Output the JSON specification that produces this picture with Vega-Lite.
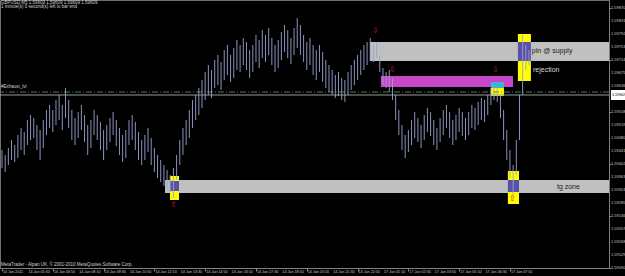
{
"$schema":"https://vega.github.io/schema/vega-lite/v6.json",
"width":609,"height":268,
"autosize":{"type":"none"},
"padding":{"left":0,"top":0,"right":16,"bottom":8},
"background":"#000000",
"config":{"view":{"stroke":"#707070","strokeWidth":1},"font":"Liberation Sans",
 "axis":{"labels":false,"grid":false,"title":null,"domainColor":"#808080","tickColor":"#808080"},
 "axisX":{"tickSize":3},
 "axisY":{"tickSize":2}},
"resolve":{"scale":{"color":"independent","strokeDash":"independent"}},
"datasets":{
"bars":[
{"i":0,"h":1.59444,"l":1.59390},{"i":2,"h":1.59429,"l":1.59378},{"i":4,"h":1.59450,"l":1.59399},{"i":6,"h":1.59474,"l":1.59414},{"i":8,"h":1.59459,"l":1.59408},{"i":10,"h":1.59489,"l":1.59420},{"i":12,"h":1.59510,"l":1.59444},{"i":14,"h":1.59498,"l":1.59429},{"i":16,"h":1.59534,"l":1.59459},{"i":18,"h":1.59549,"l":1.59474},
{"i":20,"h":1.59540,"l":1.59480},{"i":22,"h":1.59519,"l":1.59444},{"i":24,"h":1.59504,"l":1.59414},{"i":26,"h":1.59534,"l":1.59450},{"i":28,"h":1.59564,"l":1.59489},{"i":30,"h":1.59579,"l":1.59510},{"i":32,"h":1.59564,"l":1.59498},{"i":34,"h":1.59594,"l":1.59519},{"i":36,"h":1.59609,"l":1.59534},{"i":38,"h":1.59579,"l":1.59504},
{"i":40,"h":1.59630,"l":1.59540},{"i":42,"h":1.59594,"l":1.59510},{"i":44,"h":1.59564,"l":1.59474},{"i":46,"h":1.59540,"l":1.59459},{"i":48,"h":1.59558,"l":1.59480},{"i":50,"h":1.59579,"l":1.59504},{"i":52,"h":1.59549,"l":1.59468},{"i":54,"h":1.59519,"l":1.59429},{"i":56,"h":1.59534,"l":1.59450},{"i":58,"h":1.59564,"l":1.59489},
{"i":60,"h":1.59549,"l":1.59474},{"i":62,"h":1.59528,"l":1.59444},{"i":64,"h":1.59504,"l":1.59414},{"i":66,"h":1.59519,"l":1.59444},{"i":68,"h":1.59540,"l":1.59468},{"i":70,"h":1.59558,"l":1.59489},{"i":72,"h":1.59534,"l":1.59456},{"i":74,"h":1.59510,"l":1.59429},{"i":76,"h":1.59489,"l":1.59408},{"i":78,"h":1.59504,"l":1.59420},
{"i":80,"h":1.59534,"l":1.59459},{"i":82,"h":1.59549,"l":1.59474},{"i":84,"h":1.59528,"l":1.59444},{"i":86,"h":1.59498,"l":1.59414},{"i":88,"h":1.59474,"l":1.59399},{"i":90,"h":1.59489,"l":1.59414},{"i":92,"h":1.59510,"l":1.59438},{"i":94,"h":1.59480,"l":1.59399},{"i":96,"h":1.59450,"l":1.59378},{"i":98,"h":1.59429,"l":1.59360},
{"i":100,"h":1.59414,"l":1.59348},{"i":102,"h":1.59399,"l":1.59336},{"i":104,"h":1.59384,"l":1.59324},{"i":106,"h":1.59369,"l":1.59318},{"i":108,"h":1.59390,"l":1.59300},{"i":110,"h":1.59429,"l":1.59354},{"i":112,"h":1.59474,"l":1.59399},{"i":114,"h":1.59510,"l":1.59429},{"i":116,"h":1.59534,"l":1.59459},{"i":118,"h":1.59564,"l":1.59480},
{"i":120,"h":1.59594,"l":1.59510},{"i":122,"h":1.59609,"l":1.59534},{"i":124,"h":1.59630,"l":1.59549},{"i":126,"h":1.59654,"l":1.59570},{"i":128,"h":1.59678,"l":1.59594},{"i":130,"h":1.59699,"l":1.59609},{"i":132,"h":1.59684,"l":1.59600},{"i":134,"h":1.59714,"l":1.59630},{"i":136,"h":1.59729,"l":1.59639},{"i":138,"h":1.59708,"l":1.59624},
{"i":140,"h":1.59744,"l":1.59654},{"i":142,"h":1.59759,"l":1.59669},{"i":144,"h":1.59729,"l":1.59648},{"i":146,"h":1.59750,"l":1.59660},{"i":148,"h":1.59774,"l":1.59684},{"i":150,"h":1.59759,"l":1.59678},{"i":152,"h":1.59780,"l":1.59699},{"i":154,"h":1.59768,"l":1.59684},{"i":156,"h":1.59744,"l":1.59660},{"i":158,"h":1.59759,"l":1.59678},
{"i":160,"h":1.59789,"l":1.59708},{"i":162,"h":1.59774,"l":1.59690},{"i":164,"h":1.59804,"l":1.59720},{"i":166,"h":1.59789,"l":1.59708},{"i":168,"h":1.59810,"l":1.59729},{"i":170,"h":1.59780,"l":1.59699},{"i":172,"h":1.59759,"l":1.59678},{"i":174,"h":1.59774,"l":1.59690},{"i":176,"h":1.59798,"l":1.59714},{"i":178,"h":1.59819,"l":1.59738},
{"i":180,"h":1.59804,"l":1.59720},{"i":182,"h":1.59780,"l":1.59702},{"i":184,"h":1.59810,"l":1.59729},{"i":186,"h":1.59840,"l":1.59750},{"i":188,"h":1.59819,"l":1.59729},{"i":190,"h":1.59789,"l":1.59708},{"i":192,"h":1.59768,"l":1.59684},{"i":194,"h":1.59780,"l":1.59699},{"i":196,"h":1.59759,"l":1.59669},{"i":198,"h":1.59744,"l":1.59654},
{"i":200,"h":1.59759,"l":1.59678},{"i":202,"h":1.59738,"l":1.59648},{"i":204,"h":1.59714,"l":1.59630},{"i":206,"h":1.59699,"l":1.59618},{"i":208,"h":1.59684,"l":1.59609},{"i":210,"h":1.59669,"l":1.59600},{"i":212,"h":1.59678,"l":1.59606},{"i":214,"h":1.59660,"l":1.59594},{"i":216,"h":1.59654,"l":1.59588},{"i":218,"h":1.59678,"l":1.59609},
{"i":220,"h":1.59699,"l":1.59624},{"i":222,"h":1.59714,"l":1.59639},{"i":224,"h":1.59729,"l":1.59654},{"i":226,"h":1.59744,"l":1.59669},{"i":228,"h":1.59759,"l":1.59684},{"i":230,"h":1.59768,"l":1.59699},{"i":232,"h":1.59780,"l":1.59714},{"i":234,"h":1.59759,"l":1.59708},{"i":236,"h":1.59768,"l":1.59720},{"i":238,"h":1.59729,"l":1.59678},
{"i":240,"h":1.59690,"l":1.59639},{"i":242,"h":1.59678,"l":1.59630},{"i":244,"h":1.59684,"l":1.59618},{"i":246,"h":1.59660,"l":1.59594},{"i":248,"h":1.59609,"l":1.59534},{"i":250,"h":1.59564,"l":1.59489},{"i":252,"h":1.59519,"l":1.59444},{"i":254,"h":1.59489,"l":1.59420},{"i":256,"h":1.59504,"l":1.59438},{"i":258,"h":1.59534,"l":1.59459},
{"i":260,"h":1.59558,"l":1.59480},{"i":262,"h":1.59540,"l":1.59468},{"i":264,"h":1.59519,"l":1.59450},{"i":266,"h":1.59549,"l":1.59474},{"i":268,"h":1.59570,"l":1.59498},{"i":270,"h":1.59558,"l":1.59486},{"i":272,"h":1.59534,"l":1.59459},{"i":274,"h":1.59510,"l":1.59444},{"i":276,"h":1.59540,"l":1.59468},{"i":278,"h":1.59564,"l":1.59489},
{"i":280,"h":1.59579,"l":1.59510},{"i":282,"h":1.59558,"l":1.59480},{"i":284,"h":1.59534,"l":1.59459},{"i":286,"h":1.59549,"l":1.59474},{"i":288,"h":1.59570,"l":1.59498},{"i":290,"h":1.59558,"l":1.59486},{"i":292,"h":1.59540,"l":1.59474},{"i":294,"h":1.59558,"l":1.59489},{"i":296,"h":1.59579,"l":1.59510},{"i":298,"h":1.59570,"l":1.59504},
{"i":300,"h":1.59588,"l":1.59519},{"i":302,"h":1.59600,"l":1.59534},{"i":304,"h":1.59594,"l":1.59528},{"i":306,"h":1.59609,"l":1.59549},{"i":308,"h":1.59630,"l":1.59579},{"i":310,"h":1.59639,"l":1.59594},{"i":312,"h":1.59630,"l":1.59588},{"i":314,"h":1.59609,"l":1.59540},{"i":316,"h":1.59564,"l":1.59474},{"i":318,"h":1.59504,"l":1.59414},
{"i":320,"h":1.59444,"l":1.59360},{"i":322,"h":1.59399,"l":1.59309},{"i":324,"h":1.59474,"l":1.59369},{"i":326,"h":1.59609,"l":1.59474},{"i":328,"h":1.59789,"l":1.59609},{"i":330,"h":1.59759,"l":1.59684},{"i":332,"h":1.59744,"l":1.59699}
],
"zones":[
{"k":"grey","i1":231.8,"i2":382.4,"p1":1.59768,"p2":1.59711},
{"k":"grey","i1":102.7,"i2":382.4,"p1":1.59354,"p2":1.59315},
{"k":"magenta","i1":238.7,"i2":321.9,"p1":1.59666,"p2":1.59633},
{"k":"cyan","i1":308,"i2":316.2,"p1":1.59648,"p2":1.59630},
{"k":"yellow","i1":308,"i2":316.2,"p1":1.59630,"p2":1.59606},
{"k":"yellow","i1":325,"i2":333.2,"p1":1.59792,"p2":1.59768},
{"k":"blue","i1":325,"i2":333.2,"p1":1.59768,"p2":1.59711},
{"k":"yellow","i1":325,"i2":333.2,"p1":1.59711,"p2":1.59651},
{"k":"yellow","i1":105.8,"i2":111.5,"p1":1.59366,"p2":1.59351},
{"k":"blue","i1":105.8,"i2":111.5,"p1":1.59351,"p2":1.59321},
{"k":"yellow","i1":105.8,"i2":111.5,"p1":1.59321,"p2":1.59294},
{"k":"yellow","i1":318.7,"i2":325.7,"p1":1.59381,"p2":1.59354},
{"k":"blue","i1":318.7,"i2":325.7,"p1":1.59354,"p2":1.59318},
{"k":"yellow","i1":318.7,"i2":325.7,"p1":1.59318,"p2":1.59282}
],
"levels":[{"k":"level","p":1.59618},{"k":"bid","p":1.59609}],
"arrows":[
{"i":235.6,"p":1.59801,"s":"⇩"},{"i":245.7,"p":1.59684,"s":"⇩"},{"i":311.2,"p":1.59684,"s":"⇩"},
{"i":108.3,"p":1.59279,"s":"⇧"},{"i":321.9,"p":1.59297,"s":"⇧"}
],
"labels":[
{"i":333.8,"p":1.59741,"t":"pin @ supply","k":"dark"},
{"i":334.5,"p":1.59684,"t":"rejection","k":"light"},
{"i":349.6,"p":1.59333,"t":"tg zone","k":"dark"}
],
"info":[
{"i":-0.6,"p":1.59885,"t":"GBPUSD,M5  1.59609 1.59609 1.59609 1.59609"},
{"i":-0.6,"p":1.59872,"t":"1 minute(s) 0 second(s) left to bar end"},
{"i":-0.6,"p":1.59633,"t":"#Exhaust_lvl"},
{"i":-0.6,"p":1.59099,"t":"MetaTrader - Alpari UK, © 2001-2010 MetaQuotes Software Corp."}
],
"yt":[{"v":1.59870},{"v":1.59831},{"v":1.59792},{"v":1.59753},{"v":1.59714},{"v":1.59675},{"v":1.59636},{"v":1.59558},{"v":1.59519},{"v":1.59480},{"v":1.59441},{"v":1.59402},{"v":1.59363},{"v":1.59324},{"v":1.59285},{"v":1.59246},{"v":1.59207},{"v":1.59168},{"v":1.59129},{"v":1.59090}],
"xt":[{"i":0,"t":"14 Jan 2011"},{"i":16,"t":"14 Jan 05:30"},{"i":32,"t":"14 Jan 06:50"},{"i":48,"t":"14 Jan 08:10"},{"i":64,"t":"14 Jan 09:30"},{"i":80,"t":"14 Jan 10:50"},{"i":96,"t":"14 Jan 12:10"},{"i":112,"t":"14 Jan 13:30"},{"i":128,"t":"14 Jan 14:50"},{"i":144,"t":"14 Jan 16:10"},{"i":160,"t":"14 Jan 17:30"},{"i":176,"t":"14 Jan 18:50"},{"i":192,"t":"14 Jan 20:10"},{"i":208,"t":"14 Jan 21:30"},{"i":224,"t":"14 Jan 22:50"},{"i":240,"t":"17 Jan 01:10"},{"i":256,"t":"17 Jan 02:30"},{"i":272,"t":"17 Jan 03:50"},{"i":288,"t":"17 Jan 05:10"},{"i":304,"t":"17 Jan 06:30"},{"i":320,"t":"17 Jan 07:50"}],
"price":[{"i1":383.6,"i2":393,"p1":1.59624,"p2":1.59594,"p":1.59609,"t":"1.59609"}]
},
"layer":[
{"data":{"name":"zones"},"mark":{"type":"rect"},
 "encoding":{"x":{"field":"i1","type":"quantitative","scale":{"domain":[-1.26,382.4],"nice":false,"zero":false},"axis":{"orient":"bottom","values":[0,16,32,48,64,80,96,112,128,144,160,176,192,208,224,240,256,272,288,304,320]}},
  "x2":{"field":"i2"},
  "y":{"field":"p1","type":"quantitative","scale":{"domain":[1.59090,1.59894],"nice":false,"zero":false},"axis":{"orient":"right","values":[1.59870,1.59831,1.59792,1.59753,1.59714,1.59675,1.59636,1.59597,1.59558,1.59519,1.59480,1.59441,1.59402,1.59363,1.59324,1.59285,1.59246,1.59207,1.59168,1.59129,1.59090]}},
  "y2":{"field":"p2"},
  "color":{"field":"k","type":"nominal","legend":null,"scale":{"domain":["grey","magenta","cyan","yellow","blue"],"range":["#c0c0c0","#c846c8","#3cb4d2","#ffff00","#5a50a8"]}}}},
{"data":{"name":"levels"},"mark":{"type":"rule","strokeWidth":1},
 "encoding":{"y":{"field":"p","type":"quantitative"},
  "color":{"field":"k","type":"nominal","legend":null,"scale":{"domain":["level","bid"],"range":["#4e7d4e","#9a9a9a"]}},
  "strokeDash":{"field":"k","type":"nominal","legend":null,"scale":{"domain":["level","bid"],"range":[[6,2,1,2],[1,0]]}}}},
{"data":{"name":"bars"},"mark":{"type":"rule","strokeWidth":0.9,"color":"#98a4d0"},
 "encoding":{"x":{"field":"i","type":"quantitative"},"y":{"field":"h","type":"quantitative"},"y2":{"field":"l"}}},
{"data":{"name":"arrows"},"mark":{"type":"text","color":"#c81e1e","fontSize":8,"baseline":"middle","align":"center"},
 "encoding":{"x":{"field":"i","type":"quantitative"},"y":{"field":"p","type":"quantitative"},"text":{"field":"s"}}},
{"data":{"name":"labels"},"mark":{"type":"text","fontSize":7,"baseline":"middle","align":"left"},
 "encoding":{"x":{"field":"i","type":"quantitative"},"y":{"field":"p","type":"quantitative"},"text":{"field":"t"},
  "color":{"field":"k","type":"nominal","legend":null,"scale":{"domain":["dark","light"],"range":["#202020","#d8d8d8"]}}}},
{"data":{"name":"info"},"mark":{"type":"text","fontSize":4.5,"baseline":"middle","align":"left","color":"#d0d0d0"},
 "encoding":{"x":{"field":"i","type":"quantitative"},"y":{"field":"p","type":"quantitative"},"text":{"field":"t"}}},
{"data":{"name":"yt"},"mark":{"type":"text","fontSize":4,"baseline":"middle","align":"left","color":"#c8c8c8","dx":2},
 "encoding":{"x":{"datum":382.4,"type":"quantitative"},"y":{"field":"v","type":"quantitative"},"text":{"field":"v","format":".5f"}}},
{"data":{"name":"xt"},"mark":{"type":"text","fontSize":3.7,"baseline":"top","align":"left","color":"#c8c8c8","dx":1,"dy":2},
 "encoding":{"x":{"field":"i","type":"quantitative"},"y":{"datum":1.59090,"type":"quantitative"},"text":{"field":"t"}}},
{"data":{"name":"price"},"mark":{"type":"rect","color":"#ffffff"},
 "encoding":{"x":{"field":"i1","type":"quantitative"},"x2":{"field":"i2"},"y":{"field":"p1","type":"quantitative"},"y2":{"field":"p2"}}},
{"data":{"name":"price"},"mark":{"type":"text","color":"#000000","fontSize":4,"baseline":"middle","align":"left","dx":1},
 "encoding":{"x":{"field":"i1","type":"quantitative"},"y":{"field":"p","type":"quantitative"},"text":{"field":"t"}}}
]
}
